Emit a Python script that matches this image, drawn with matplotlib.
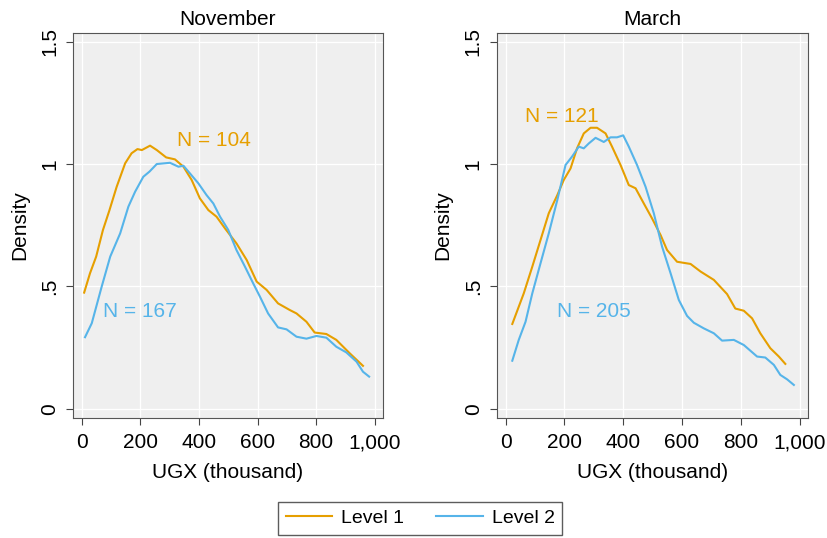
import matplotlib.pyplot as plt
from matplotlib.ticker import FuncFormatter

plt.rcParams['font.family'] = ['Liberation Sans', 'DejaVu Sans']

# November (left panel)
nov_l1_x = [8, 28, 49, 72, 94, 119, 148, 170, 190, 205, 233, 256, 288, 318, 347, 375, 403, 432,
            460, 489, 528, 563, 597, 631, 670, 710, 733, 767, 795, 835, 869, 915, 960]
nov_l1_y = [0.475, 0.554, 0.622, 0.73, 0.81, 0.907, 1.003, 1.044, 1.061, 1.057, 1.075, 1.057,
            1.027, 1.019, 0.989, 0.935, 0.86, 0.812, 0.785, 0.737, 0.676, 0.608, 0.52, 0.486,
            0.431, 0.404, 0.39, 0.356, 0.312, 0.306, 0.282, 0.227, 0.176]
nov_l2_x = [11, 34, 68, 97, 131, 159, 182, 210, 231, 256, 301, 330, 347, 369, 398, 426, 449,
            472, 500, 528, 557, 585, 608, 636, 670, 699, 733, 767, 801, 835, 869, 903, 938,
            960, 981]
nov_l2_y = [0.293, 0.35, 0.5, 0.622, 0.717, 0.826, 0.887, 0.948, 0.969, 1.0, 1.005, 0.989,
            0.993, 0.962, 0.921, 0.873, 0.839, 0.785, 0.731, 0.649, 0.581, 0.513, 0.459, 0.39,
            0.333, 0.325, 0.295, 0.287, 0.298, 0.291, 0.254, 0.231, 0.193, 0.152, 0.132]

# March (right panel)
mar_l1_x = [23, 62, 91, 119, 147, 176, 198, 221, 243, 266, 289, 311, 340, 362, 391, 419, 442,
            470, 498, 527, 549, 583, 629, 663, 708, 753, 781, 810, 838, 866, 900, 929, 951]
mar_l1_y = [0.347, 0.472, 0.581, 0.69, 0.799, 0.873, 0.935, 0.982, 1.064, 1.125, 1.148, 1.148,
            1.125, 1.071, 0.996, 0.914, 0.901, 0.839, 0.778, 0.71, 0.649, 0.601, 0.592, 0.561,
            0.527, 0.469, 0.41, 0.401, 0.37, 0.309, 0.248, 0.214, 0.184]
mar_l2_x = [23, 45, 68, 91, 119, 147, 176, 204, 226, 249, 266, 283, 306, 334, 357, 379, 400,
            419, 447, 476, 504, 532, 561, 589, 617, 640, 674, 708, 736, 776, 810, 855, 883,
            912, 934, 957, 980]
mar_l2_y = [0.197, 0.282, 0.356, 0.472, 0.595, 0.717, 0.853, 0.996, 1.03, 1.071, 1.064, 1.084,
            1.107, 1.09, 1.109, 1.109, 1.117, 1.071, 0.996, 0.907, 0.799, 0.663, 0.554, 0.445,
            0.38, 0.352, 0.329, 0.309, 0.279, 0.282, 0.261, 0.214, 0.21, 0.18, 0.139, 0.121,
            0.098]

titles = ['November', 'March']
n_labels = [('N = 104', 'N = 167'), ('N = 121', 'N = 205')]
series_labels = ['Level 1', 'Level 2']
x_ticks = [0, 200, 400, 600, 800, 1000]
y_ticks = [0, 0.5, 1, 1.5]
y_ticklabels = ['0', '.5', '1', '1.5']

c1 = '#E69F00'
c2 = '#56B4E9'
fs = 15

fig = plt.figure(figsize=(8.27, 5.38), dpi=100)
ax1 = fig.add_axes([0.0883, 0.223, 0.3747, 0.7157])
ax2 = fig.add_axes([0.6006, 0.223, 0.3764, 0.7157])

panels = [
    (ax1, nov_l1_x, nov_l1_y, nov_l2_x, nov_l2_y, [(324, 1.098), (74, 0.397)]),
    (ax2, mar_l1_x, mar_l1_y, mar_l2_x, mar_l2_y, [(66, 1.193), (176, 0.397)]),
]

for i, (ax, x1, y1, x2, y2, pos) in enumerate(panels):
    ax.set_facecolor('#efefef')
    ax.plot(x1, y1, color=c1, lw=1.5, label=series_labels[0], zorder=3)
    ax.plot(x2, y2, color=c2, lw=1.5, label=series_labels[1], zorder=3)
    ax.text(pos[0][0], pos[0][1], n_labels[i][0], color=c1, fontsize=fs, va='center')
    ax.text(pos[1][0], pos[1][1], n_labels[i][1], color=c2, fontsize=fs, va='center')
    ax.set_xlim(-30, 1028)
    ax.set_ylim(-0.037, 1.535)
    ax.set_xticks(x_ticks)
    ax.xaxis.set_major_formatter(FuncFormatter(lambda v, p: f'{int(v):,}'))
    ax.set_yticks(y_ticks)
    ax.set_yticklabels(y_ticklabels, rotation=90, va='center')
    ax.grid(True, color='white', lw=0.9)
    ax.set_axisbelow(True)
    ax.tick_params(labelsize=fs, length=5, color='#444444')
    ax.tick_params(axis='x', pad=6)
    ax.tick_params(axis='y', pad=5)
    for s in ax.spines.values():
        s.set_color('#555555')
    ax.set_title(titles[i], fontsize=fs, pad=6)
    ax.set_xlabel('UGX (thousand)', fontsize=fs, labelpad=8)
    ax.set_ylabel('Density', fontsize=fs, labelpad=8)

handles, labels = ax1.get_legend_handles_labels()
fig.legend(handles, labels, loc='lower center', bbox_to_anchor=(0.508, -0.012), ncol=2,
           fontsize=14, frameon=True, fancybox=False, edgecolor='#333333',
           handlelength=2.4, handletextpad=0.45, columnspacing=1.65, borderpad=0.4)

fig.savefig('out.png', dpi=100)
